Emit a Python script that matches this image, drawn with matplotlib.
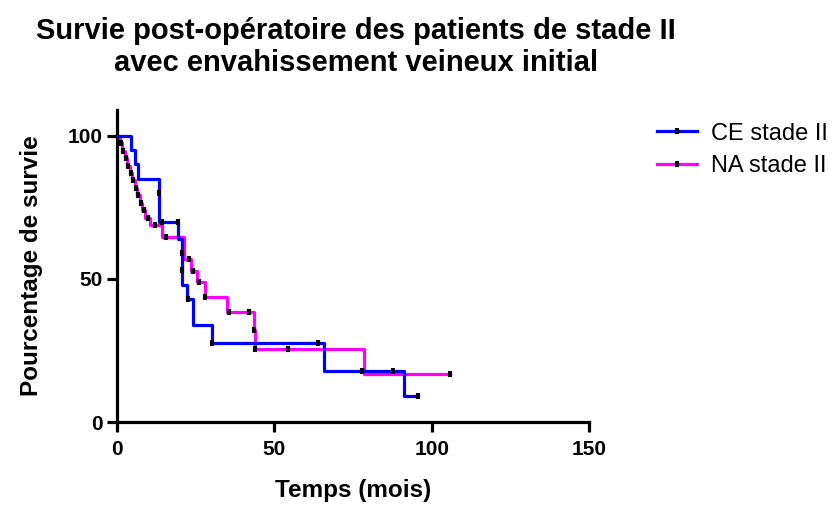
import matplotlib
matplotlib.use('Agg')
import matplotlib.pyplot as plt
from matplotlib.lines import Line2D

plt.rcParams['font.family'] = ['Liberation Sans', 'DejaVu Sans']

# CE stade II : temps (mois) et pourcentage de survie
ce_temps = [0, 4.4, 5.7, 6.8, 13.5, 19.5, 20.8, 22.3, 24.0, 30.3, 65.8, 91.3, 95.5]
ce_survie = [100, 95, 90, 85, 70, 64, 48, 43, 34, 27.5, 17.7, 9, 9]
# patients censurés (CE)
ce_cens_t = [13.5, 14.2, 19.5, 20.8, 20.8, 22.5, 30.3, 64, 78, 87.8, 95.5]
ce_cens_s = [80, 70, 70, 59, 53, 43, 27.5, 27.5, 17.7, 17.7, 9]

# NA stade II
na_temps = [0, 0.8, 1.6, 2.4, 3.2, 4.0, 4.8, 5.6, 6.4, 7.2, 8.0, 9.0, 10.5,
            14.3, 21.4, 23.6, 25.4, 28.0, 35.0, 43.5, 44.0, 78.5, 105.8]
na_survie = [100, 97.4, 94.8, 92.2, 89.6, 87, 84.4, 81.8, 79.2, 76.6, 74, 71.4, 68.8,
             64.5, 57, 52.8, 48.8, 43.5, 38.3, 32, 25.5, 16.7, 16.7]
na_cens_t = [1.2, 2.0, 2.8, 3.6, 4.4, 5.2, 6.0, 6.8, 7.6, 8.5, 9.7, 12.0, 15.5,
             22.8, 24.3, 26.2, 28.1, 35.6, 42.0, 43.5, 44.0, 54.2, 105.8]
na_cens_s = [97.4, 94.8, 92.2, 89.6, 87, 84.4, 81.8, 79.2, 76.6, 74, 71.4, 68.8, 64.5,
             57, 52.8, 48.8, 43.5, 38.3, 38.3, 32, 25.5, 25.5, 16.7]

x_ticks = [0, 50, 100, 150]
y_ticks = [0, 50, 100]

fig = plt.figure(figsize=(8.37, 5.05), dpi=100)
ax = fig.add_axes([117 / 837, 83 / 505, 472 / 837, 312 / 505])

ax.step(na_temps, na_survie, where='post', color='#ff00ff', lw=2.3, zorder=2)
ax.step(ce_temps, ce_survie, where='post', color='#0000ff', lw=2.3, zorder=3)
ax.plot(na_cens_t, na_cens_s, ls='none', marker='|', ms=5, mew=3, color='black', zorder=4)
ax.plot(ce_cens_t, ce_cens_s, ls='none', marker='|', ms=5, mew=3, color='black', zorder=4)

ax.set_xlim(0, 150)
ax.set_ylim(0, 109)
ax.set_xticks(x_ticks)
ax.set_yticks(y_ticks)
for s in ['top', 'right']:
    ax.spines[s].set_visible(False)
for s in ['left', 'bottom']:
    ax.spines[s].set_linewidth(2.3)
ax.tick_params(direction='out', length=7, width=2.3, labelsize=15)
ax.tick_params(axis='x', pad=6)
ax.tick_params(axis='y', pad=3)
for lab in ax.get_xticklabels() + ax.get_yticklabels():
    lab.set_fontweight('bold')

ax.set_xlabel('Temps (mois)', fontsize=17.5, fontweight='bold', labelpad=14)
ax.set_ylabel('Pourcentage de survie', fontsize=17.5, fontweight='bold', labelpad=18)
fig.text(0.425, 1 - 17 / 505,
         'Survie post-opératoire des patients de stade II\navec envahissement veineux initial',
         ha='center', va='top', fontsize=21, fontweight='bold', linespacing=1.2)

handles = [
    Line2D([], [], color='#0000ff', lw=2.3, marker='|', ms=5, mew=3, markeredgecolor='black'),
    Line2D([], [], color='#ff00ff', lw=2.3, marker='|', ms=5, mew=3, markeredgecolor='black'),
]
fig.legend(handles, ['CE stade II', 'NA stade II'], loc='upper left',
           bbox_to_anchor=(0.785, 0.757), frameon=False, fontsize=17,
           handlelength=1.7, handletextpad=0.6, labelspacing=0.45,
           borderaxespad=0, borderpad=0)

fig.savefig('out.png', dpi=100)
